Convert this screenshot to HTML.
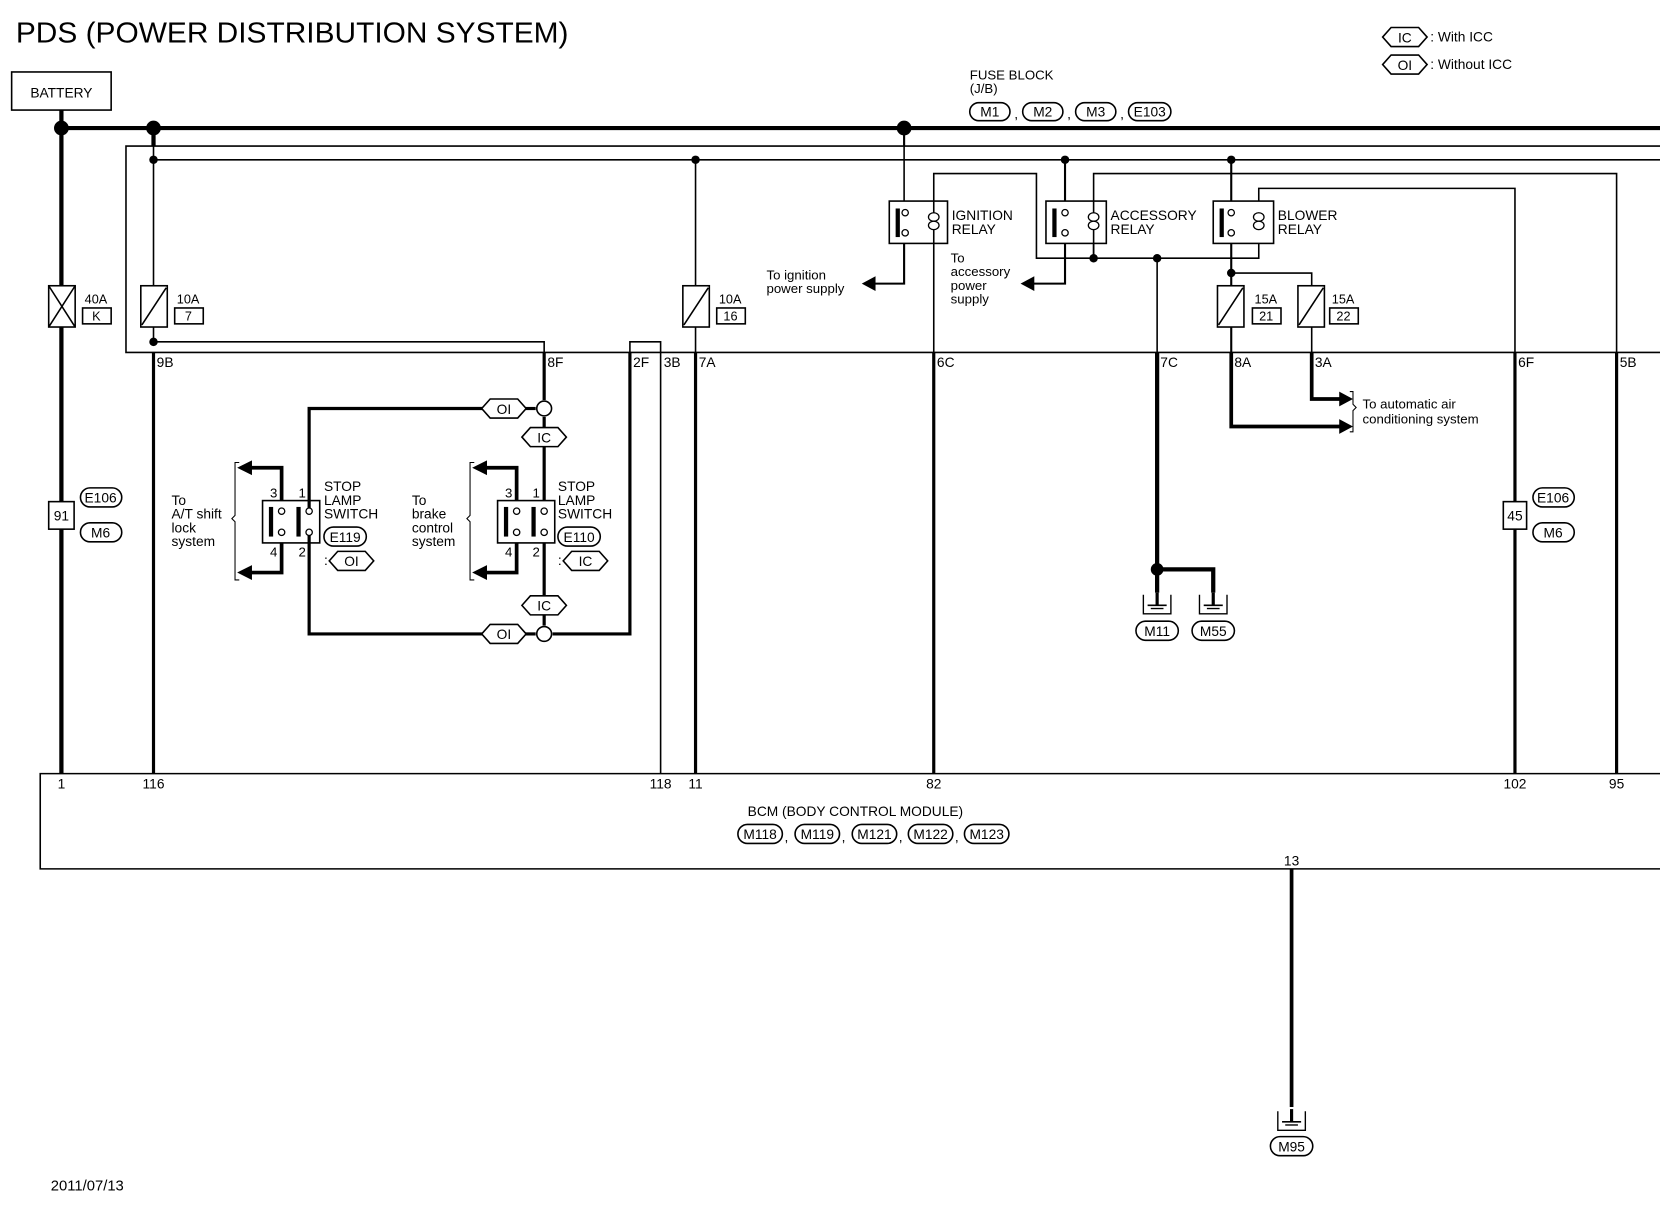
<!DOCTYPE html>
<html><head><meta charset="utf-8"><style>
html,body{margin:0;padding:0;background:#fff;}
svg{display:block;}
text{font-family:"Liberation Sans",sans-serif;fill:#000;}
</style></head><body>
<svg width="1660" height="1216" viewBox="0 0 1568 1149" preserveAspectRatio="none" xmlns="http://www.w3.org/2000/svg">
<defs>
<g id="hex"><polygon points="-21,0 -13,-9 13,-9 21,0 13,9 -13,9" fill="#fff" stroke="#000" stroke-width="1.5"/></g>
<g id="gnd"><path d="M-13,-18 V0 H13 V-18" fill="none" stroke="#000" stroke-width="1.3"/><line x1="0" y1="-20" x2="0" y2="-8" stroke="#000" stroke-width="3"/><line x1="-9" y1="-8" x2="9" y2="-8" stroke="#000" stroke-width="1.5"/><line x1="-6" y1="-5" x2="6" y2="-5" stroke="#000" stroke-width="1.3"/></g>
</defs>
<text x="15" y="40" font-size="27" textLength="522" lengthAdjust="spacingAndGlyphs">PDS (POWER DISTRIBUTION SYSTEM)</text>
<!-- legend -->
<use href="#hex" x="1327" y="35"/><text x="1327" y="40" font-size="13" text-anchor="middle">IC</text><text x="1351" y="39" font-size="13">: With ICC</text>
<use href="#hex" x="1327" y="61"/><text x="1327" y="66" font-size="13" text-anchor="middle">OI</text><text x="1351" y="65" font-size="13">: Without ICC</text>
<!-- battery -->
<rect x="11" y="68" width="94" height="36" fill="none" stroke="#000" stroke-width="1.5"/>
<text x="58" y="92" font-size="13" text-anchor="middle">BATTERY</text>
<g stroke="#000" fill="none">
<line x1="58" y1="121" x2="1568" y2="121" stroke-width="4"/>
<line x1="58" y1="104" x2="58" y2="731" stroke-width="4"/>
<line x1="145" y1="121" x2="145" y2="138" stroke-width="4"/>
<line x1="854" y1="121" x2="854" y2="138" stroke-width="2"/>
<polyline points="1568,138 119,138 119,333 1568,333" stroke-width="1.5"/>
<line x1="145" y1="151" x2="1568" y2="151" stroke-width="1.5"/>
<line x1="145" y1="138" x2="145" y2="323" stroke-width="1.5"/>
<polyline points="145,323 514,323 514,333" stroke-width="1.5"/>
<polyline points="595,333 595,323 624,323 624,731" stroke-width="1.5"/>
<line x1="145" y1="333" x2="145" y2="731" stroke-width="3"/>
<line x1="657" y1="151" x2="657" y2="333" stroke-width="1.5"/>
<line x1="657" y1="333" x2="657" y2="731" stroke-width="3"/>
<line x1="854" y1="138" x2="854" y2="190" stroke-width="1.5"/>
<polyline points="854,230 854,268 825,268" stroke-width="2"/>
<polyline points="882,333 882,164 979,164 979,244 1189,244 1189,230" stroke-width="1.5"/>
<line x1="882" y1="333" x2="882" y2="731" stroke-width="3"/>
<line x1="1006" y1="151" x2="1006" y2="190" stroke-width="2"/>
<polyline points="1006,230 1006,268 976,268" stroke-width="2"/>
<polyline points="1033,244 1033,164 1527,164 1527,333" stroke-width="1.5"/>
<line x1="1033" y1="230" x2="1033" y2="244" stroke-width="1.5"/>
<line x1="1527" y1="333" x2="1527" y2="731" stroke-width="3"/>
<polyline points="1189,190 1189,178 1431,178 1431,333" stroke-width="1.5"/>
<line x1="1431" y1="333" x2="1431" y2="731" stroke-width="3"/>
<line x1="1093" y1="244" x2="1093" y2="333" stroke-width="1.5"/>
<line x1="1093" y1="333" x2="1093" y2="538" stroke-width="4"/>
<polyline points="1093,538 1146,538 1146,560" stroke-width="4"/>
<line x1="1093" y1="538" x2="1093" y2="560" stroke-width="4"/>
<line x1="1163" y1="151" x2="1163" y2="190" stroke-width="2"/>
<line x1="1163" y1="230" x2="1163" y2="333" stroke-width="2"/>
<polyline points="1163,258 1239,258 1239,333" stroke-width="1.5"/>
<polyline points="1163,333 1163,403 1266,403" stroke-width="3.5"/>
<polyline points="1239,333 1239,377 1266,377" stroke-width="3.5"/>
<line x1="514" y1="333" x2="514" y2="378" stroke-width="3"/>
<line x1="514" y1="394" x2="514" y2="591" stroke-width="3"/>
<polyline points="595,333 595,599 522,599" stroke-width="3"/>
<polyline points="458,386 292,386 292,599 458,599" stroke-width="3"/>
<line x1="495" y1="386" x2="506" y2="386" stroke-width="3"/>
<line x1="495" y1="599" x2="506" y2="599" stroke-width="3"/>
<polyline points="266,473 266,442 236,442" stroke-width="3.5"/>
<polyline points="266,513 266,541 236,541" stroke-width="3.5"/>
<polyline points="488,473 488,442 458,442" stroke-width="3.5"/>
<polyline points="488,513 488,541 458,541" stroke-width="3.5"/>
<polyline points="1568,731 38,731 38,821 1568,821" stroke-width="1.5"/>
<line x1="1220" y1="821" x2="1220" y2="1046" stroke-width="3.5"/>
<path d="M226,437 h-4 v50 l-3,3 l3,3 v55 h4" stroke-width="1"/>
<path d="M448,437 h-4 v50 l-3,3 l3,3 v55 h4" stroke-width="1"/>
<path d="M1275,370 h3 v12 l3,3 l-3,3 v20 h-3" stroke-width="1"/>
</g>
<g fill="#000">
<polygon points="814,268 827,261 827,275"/>
<polygon points="964,268 977,261 977,275"/>
<polygon points="224,442 238,435 238,449"/>
<polygon points="224,541 238,534 238,548"/>
<polygon points="446,442 460,435 460,449"/>
<polygon points="446,541 460,534 460,548"/>
<polygon points="1278,377 1265,370 1265,384"/>
<polygon points="1278,403 1265,396 1265,410"/>
<circle cx="58" cy="121" r="7"/><circle cx="145" cy="121" r="7"/><circle cx="854" cy="121" r="7"/>
<circle cx="145" cy="151" r="4"/><circle cx="657" cy="151" r="4"/><circle cx="1006" cy="151" r="4"/><circle cx="1163" cy="151" r="4"/>
<circle cx="145" cy="323" r="4"/><circle cx="1033" cy="244" r="4"/><circle cx="1093" cy="244" r="4"/><circle cx="1163" cy="258" r="4"/>
<circle cx="1093" cy="538" r="6"/>
</g>
<g stroke="#000" fill="#fff" stroke-width="1.5">
<rect x="46" y="270" width="25" height="39"/><rect x="133" y="270" width="25" height="39"/><rect x="645" y="270" width="25" height="39"/>
<rect x="1150" y="270" width="25" height="39"/><rect x="1226" y="270" width="25" height="39"/>
</g>
<g stroke="#000" stroke-width="1.5">
<line x1="46" y1="270" x2="71" y2="309"/><line x1="71" y1="270" x2="46" y2="309"/>
<line x1="157" y1="272" x2="134" y2="307"/><line x1="669" y1="272" x2="646" y2="307"/>
<line x1="1174" y1="272" x2="1151" y2="307"/><line x1="1250" y1="272" x2="1227" y2="307"/>
</g>
<g font-size="12">
<text x="80" y="287">40A</text><rect x="78" y="291" width="27" height="15" fill="none" stroke="#000" stroke-width="1.5"/><text x="91" y="303" text-anchor="middle">K</text>
<text x="167" y="287">10A</text><rect x="165" y="291" width="27" height="15" fill="none" stroke="#000" stroke-width="1.5"/><text x="178" y="303" text-anchor="middle">7</text>
<text x="679" y="287">10A</text><rect x="677" y="291" width="27" height="15" fill="none" stroke="#000" stroke-width="1.5"/><text x="690" y="303" text-anchor="middle">16</text>
<text x="1185" y="287">15A</text><rect x="1183" y="291" width="27" height="15" fill="none" stroke="#000" stroke-width="1.5"/><text x="1196" y="303" text-anchor="middle">21</text>
<text x="1258" y="287">15A</text><rect x="1256" y="291" width="27" height="15" fill="none" stroke="#000" stroke-width="1.5"/><text x="1269" y="303" text-anchor="middle">22</text>
</g>
<g stroke="#000" fill="none" stroke-width="1.5">
<rect x="840" y="190" width="55" height="40"/>
<rect x="988" y="190" width="57" height="40"/>
<rect x="1146" y="190" width="57" height="40"/>
</g>
<g fill="#000"><rect x="846" y="197" width="4" height="27"/><rect x="994" y="197" width="4" height="27"/><rect x="1152" y="197" width="4" height="27"/></g>
<g fill="#fff" stroke="#000" stroke-width="1.2">
<circle cx="855" cy="201" r="3"/><circle cx="855" cy="220" r="3"/>
<circle cx="1006" cy="201" r="3"/><circle cx="1006" cy="220" r="3"/>
<circle cx="1163" cy="201" r="3"/><circle cx="1163" cy="220" r="3"/>
<ellipse cx="882" cy="205" rx="5" ry="4"/><ellipse cx="882" cy="213" rx="5" ry="4"/>
<ellipse cx="1033" cy="205" rx="5" ry="4"/><ellipse cx="1033" cy="213" rx="5" ry="4"/>
<ellipse cx="1189" cy="205" rx="5" ry="4"/><ellipse cx="1189" cy="213" rx="5" ry="4"/>
</g>
<g font-size="13">
<text x="899" y="208">IGNITION</text><text x="899" y="221">RELAY</text>
<text x="1049" y="208">ACCESSORY</text><text x="1049" y="221">RELAY</text>
<text x="1207" y="208">BLOWER</text><text x="1207" y="221">RELAY</text>
</g>
<g font-size="12.5">
<text x="724" y="264">To ignition</text><text x="724" y="277">power supply</text>
<text x="898" y="248">To</text><text x="898" y="261">accessory</text><text x="898" y="274">power</text><text x="898" y="287">supply</text>
<text x="1287" y="386">To automatic air</text><text x="1287" y="400">conditioning system</text>
<text x="916" y="75">FUSE BLOCK</text><text x="916" y="88">(J/B)</text>
</g>
<g fill="none" stroke="#000" stroke-width="1.5">
<rect x="916" y="97" width="38" height="17" rx="8.5"/><rect x="966" y="97" width="38" height="17" rx="8.5"/><rect x="1016" y="97" width="38" height="17" rx="8.5"/><rect x="1066" y="97" width="40" height="17" rx="8.5"/>
</g>
<g font-size="13" text-anchor="middle">
<text x="935" y="110">M1</text><text x="985" y="110">M2</text><text x="1035" y="110">M3</text><text x="1086" y="110">E103</text>
</g>
<g font-size="13"><text x="958" y="112">,</text><text x="1008" y="112">,</text><text x="1058" y="112">,</text></g>
<g font-size="13">
<text x="148" y="347">9B</text><text x="517" y="347">8F</text><text x="598" y="347">2F</text><text x="627" y="347">3B</text><text x="660" y="347">7A</text>
<text x="885" y="347">6C</text><text x="1096" y="347">7C</text><text x="1166" y="347">8A</text><text x="1242" y="347">3A</text><text x="1434" y="347">6F</text><text x="1530" y="347">5B</text>
<text x="58" y="745" text-anchor="middle">1</text><text x="145" y="745" text-anchor="middle">116</text><text x="624" y="745" text-anchor="middle">118</text><text x="657" y="745" text-anchor="middle">11</text>
<text x="882" y="745" text-anchor="middle">82</text><text x="1431" y="745" text-anchor="middle">102</text><text x="1527" y="745" text-anchor="middle">95</text>
<text x="1220" y="818" text-anchor="middle">13</text>
<text x="808" y="771" text-anchor="middle">BCM (BODY CONTROL MODULE)</text>
</g>
<g fill="none" stroke="#000" stroke-width="1.5">
<rect x="697" y="779" width="42" height="18" rx="9"/><rect x="751" y="779" width="42" height="18" rx="9"/><rect x="805" y="779" width="42" height="18" rx="9"/><rect x="858" y="779" width="42" height="18" rx="9"/><rect x="911" y="779" width="42" height="18" rx="9"/>
</g>
<g font-size="13" text-anchor="middle"><text x="718" y="793">M118</text><text x="772" y="793">M119</text><text x="826" y="793">M121</text><text x="879" y="793">M122</text><text x="932" y="793">M123</text></g>
<g font-size="13"><text x="741" y="795">,</text><text x="795" y="795">,</text><text x="849" y="795">,</text><text x="902" y="795">,</text></g>
<g fill="#fff" stroke="#000" stroke-width="1.5">
<rect x="46" y="474" width="24" height="26"/><rect x="1420" y="474" width="22" height="26"/>
<rect x="76" y="461" width="39" height="18" rx="9"/><rect x="76" y="494" width="39" height="18" rx="9"/>
<rect x="1448" y="461" width="39" height="18" rx="9"/><rect x="1448" y="494" width="39" height="18" rx="9"/>
</g>
<g font-size="13" text-anchor="middle">
<text x="58" y="492">91</text><text x="1431" y="492">45</text>
<text x="95" y="475">E106</text><text x="95" y="508">M6</text><text x="1467" y="475">E106</text><text x="1467" y="508">M6</text>
</g>
<use href="#hex" x="476" y="386"/><use href="#hex" x="476" y="599"/><use href="#hex" x="514" y="413"/><use href="#hex" x="514" y="572"/>
<g font-size="13" text-anchor="middle"><text x="476" y="391">OI</text><text x="476" y="604">OI</text><text x="514" y="418">IC</text><text x="514" y="577">IC</text></g>
<g fill="#fff" stroke="#000" stroke-width="1.5"><circle cx="514" cy="386" r="7"/><circle cx="514" cy="599" r="7"/></g>
<g fill="#fff" stroke="#000" stroke-width="1.5">
<rect x="248" y="473" width="54" height="40"/><rect x="470" y="473" width="54" height="40"/>
</g>
<g fill="#000"><rect x="254" y="479" width="4" height="28"/><rect x="280" y="479" width="4" height="28"/><rect x="476" y="479" width="4" height="28"/><rect x="502" y="479" width="4" height="28"/></g>
<g fill="#fff" stroke="#000" stroke-width="1.2">
<circle cx="266" cy="483" r="3"/><circle cx="266" cy="503" r="3"/><circle cx="292" cy="483" r="3"/><circle cx="292" cy="503" r="3"/>
<circle cx="488" cy="483" r="3"/><circle cx="488" cy="503" r="3"/><circle cx="514" cy="483" r="3"/><circle cx="514" cy="503" r="3"/>
</g>
<g stroke="#000" stroke-width="3"><line x1="292" y1="473" x2="292" y2="480"/><line x1="292" y1="506" x2="292" y2="513"/></g>
<g font-size="12.5">
<text x="255" y="470">3</text><text x="282" y="470">1</text><text x="255" y="526">4</text><text x="282" y="526">2</text>
<text x="477" y="470">3</text><text x="503" y="470">1</text><text x="477" y="526">4</text><text x="503" y="526">2</text>
</g>
<g font-size="13">
<text x="306" y="464">STOP</text><text x="306" y="477">LAMP</text><text x="306" y="490">SWITCH</text>
<text x="527" y="464">STOP</text><text x="527" y="477">LAMP</text><text x="527" y="490">SWITCH</text>
<text x="162" y="477">To</text><text x="162" y="490">A/T shift</text><text x="162" y="503">lock</text><text x="162" y="516">system</text>
<text x="389" y="477">To</text><text x="389" y="490">brake</text><text x="389" y="503">control</text><text x="389" y="516">system</text>
</g>
<g fill="none" stroke="#000" stroke-width="1.5"><rect x="306" y="498" width="40" height="18" rx="9"/><rect x="527" y="498" width="40" height="18" rx="9"/></g>
<g font-size="13" text-anchor="middle"><text x="326" y="512">E119</text><text x="547" y="512">E110</text></g>
<text x="306" y="534" font-size="13">:</text><use href="#hex" x="332" y="530"/><text x="332" y="535" font-size="13" text-anchor="middle">OI</text>
<text x="527" y="534" font-size="13">:</text><use href="#hex" x="553" y="530"/><text x="553" y="535" font-size="13" text-anchor="middle">IC</text>
<use href="#gnd" x="1093" y="580"/><use href="#gnd" x="1146" y="580"/><use href="#gnd" x="1220" y="1068"/>
<g fill="none" stroke="#000" stroke-width="1.5"><rect x="1073" y="587" width="40" height="18" rx="9"/><rect x="1126" y="587" width="40" height="18" rx="9"/><rect x="1200" y="1074" width="40" height="18" rx="9"/></g>
<g font-size="13" text-anchor="middle"><text x="1093" y="601">M11</text><text x="1146" y="601">M55</text><text x="1220" y="1088">M95</text></g>
<text x="48" y="1125" font-size="14">2011/07/13</text>
</svg>
</body></html>
